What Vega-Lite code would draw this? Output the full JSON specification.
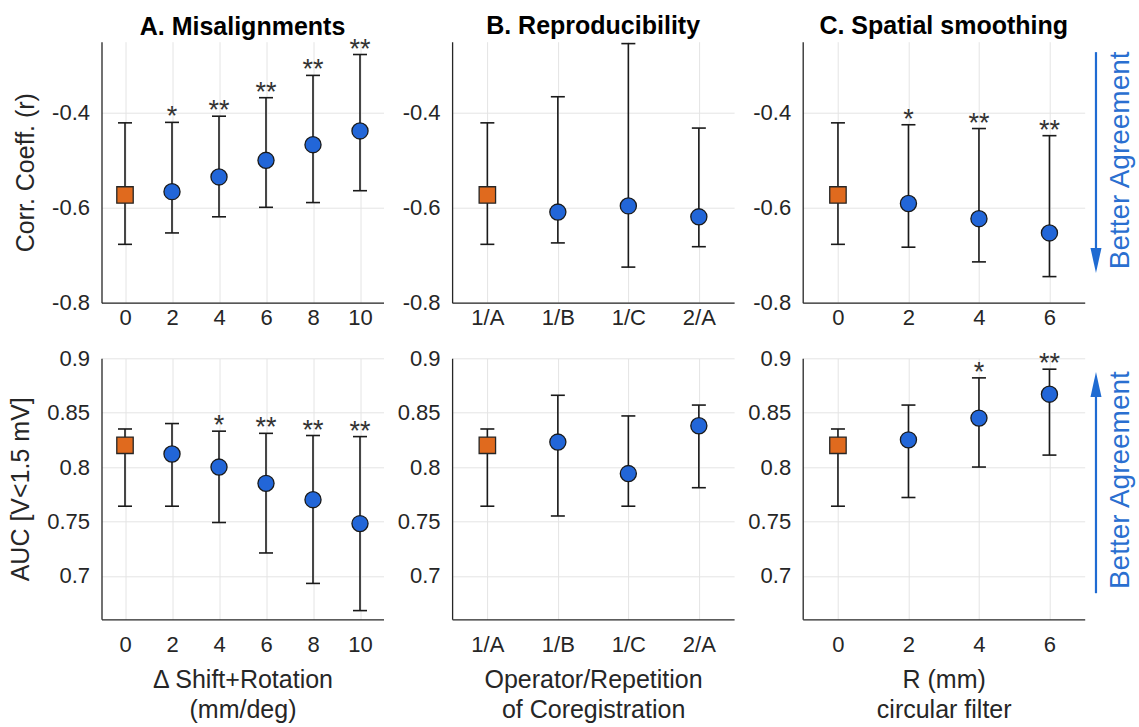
{
  "$schema": "https://vega.github.io/schema/vega-lite/v6.json",
  "background": "white",
  "autosize": {"type": "none"},
  "padding": {"left": 101.5, "top": 41.7, "right": 1037.5, "bottom": 685.3},
  "datasets": {
    "A": [
      {"x": 0, "r": -0.573, "r_lo": -0.677, "r_hi": -0.421, "r_sig": "", "auc": 0.820, "auc_lo": 0.764, "auc_hi": 0.835, "auc_sig": "", "ref": true},
      {"x": 2, "r": -0.566, "r_lo": -0.653, "r_hi": -0.420, "r_sig": "*", "auc": 0.812, "auc_lo": 0.764, "auc_hi": 0.840, "auc_sig": "", "ref": false},
      {"x": 4, "r": -0.535, "r_lo": -0.619, "r_hi": -0.407, "r_sig": "**", "auc": 0.800, "auc_lo": 0.749, "auc_hi": 0.833, "auc_sig": "*", "ref": false},
      {"x": 6, "r": -0.500, "r_lo": -0.599, "r_hi": -0.368, "r_sig": "**", "auc": 0.785, "auc_lo": 0.721, "auc_hi": 0.831, "auc_sig": "**", "ref": false},
      {"x": 8, "r": -0.467, "r_lo": -0.589, "r_hi": -0.321, "r_sig": "**", "auc": 0.770, "auc_lo": 0.693, "auc_hi": 0.829, "auc_sig": "**", "ref": false},
      {"x": 10, "r": -0.438, "r_lo": -0.564, "r_hi": -0.277, "r_sig": "**", "auc": 0.748, "auc_lo": 0.668, "auc_hi": 0.828, "auc_sig": "**", "ref": false}
    ],
    "B": [
      {"x": "1/A", "r": -0.573, "r_lo": -0.677, "r_hi": -0.421, "r_sig": "", "auc": 0.820, "auc_lo": 0.764, "auc_hi": 0.835, "auc_sig": "", "ref": true},
      {"x": "1/B", "r": -0.609, "r_lo": -0.674, "r_hi": -0.366, "r_sig": "", "auc": 0.823, "auc_lo": 0.755, "auc_hi": 0.866, "auc_sig": "", "ref": false},
      {"x": "1/C", "r": -0.596, "r_lo": -0.725, "r_hi": -0.254, "r_sig": "", "auc": 0.794, "auc_lo": 0.764, "auc_hi": 0.847, "auc_sig": "", "ref": false},
      {"x": "2/A", "r": -0.619, "r_lo": -0.682, "r_hi": -0.432, "r_sig": "", "auc": 0.838, "auc_lo": 0.781, "auc_hi": 0.857, "auc_sig": "", "ref": false}
    ],
    "C": [
      {"x": 0, "r": -0.573, "r_lo": -0.677, "r_hi": -0.421, "r_sig": "", "auc": 0.820, "auc_lo": 0.764, "auc_hi": 0.835, "auc_sig": "", "ref": true},
      {"x": 2, "r": -0.591, "r_lo": -0.683, "r_hi": -0.425, "r_sig": "*", "auc": 0.825, "auc_lo": 0.772, "auc_hi": 0.857, "auc_sig": "", "ref": false},
      {"x": 4, "r": -0.623, "r_lo": -0.714, "r_hi": -0.433, "r_sig": "**", "auc": 0.845, "auc_lo": 0.800, "auc_hi": 0.882, "auc_sig": "*", "ref": false},
      {"x": 6, "r": -0.653, "r_lo": -0.745, "r_hi": -0.448, "r_sig": "**", "auc": 0.867, "auc_lo": 0.811, "auc_hi": 0.890, "auc_sig": "**", "ref": false}
    ]
  },
  "columns": 3,
  "spacing": {"row": 55.6, "column": 68.6},
  "bounds": "flush",
  "concat": [
    {
      "title": {"text": "A. Misalignments", "dy": 7},
      "width": 282, "height": 261,
      "data": {"name": "A"},
      "encoding": {"x": {"field": "x", "type": "quantitative", "scale": {"domain": [-1, 11], "nice": false, "zero": false}, "axis": {"values": [0, 2, 4, 6, 8, 10], "title": null}}},
      "layer": [
        {"mark": {"type": "rule", "color": "#1a1a1a", "strokeWidth": 1.6}, "encoding": {"y": {"field": "r_lo", "type": "quantitative", "scale": {"domain": [-0.8, -0.25], "nice": false, "zero": false}, "axis": {"values": [-0.8, -0.6, -0.4], "title": "Corr. Coeff. (r)", "labelExpr": "datum.value + ''"}}, "y2": {"field": "r_hi"}}},
        {"mark": {"type": "tick", "orient": "horizontal", "size": 14, "thickness": 1.6, "color": "#1a1a1a", "opacity": 1}, "encoding": {"y": {"field": "r_lo", "type": "quantitative"}}},
        {"mark": {"type": "tick", "orient": "horizontal", "size": 14, "thickness": 1.6, "color": "#1a1a1a", "opacity": 1}, "encoding": {"y": {"field": "r_hi", "type": "quantitative"}}},
        {"transform": [{"filter": "datum.ref"}], "mark": {"type": "square", "size": 270, "fill": "#e06a1e", "filled": true, "stroke": "#262626", "strokeWidth": 1.3, "opacity": 1}, "encoding": {"y": {"field": "r", "type": "quantitative"}}},
        {"transform": [{"filter": "!datum.ref"}], "mark": {"type": "circle", "size": 260, "fill": "#2266d8", "stroke": "#1a1a1a", "strokeWidth": 1.3, "opacity": 1}, "encoding": {"y": {"field": "r", "type": "quantitative"}}},
        {"mark": {"type": "text", "fontSize": 27, "color": "#333333", "baseline": "alphabetic", "dy": 3}, "encoding": {"y": {"field": "r_hi", "type": "quantitative"}, "text": {"field": "r_sig"}}}
      ]
    },
    {
      "title": {"text": "B. Reproducibility"},
      "width": 282, "height": 261,
      "data": {"name": "B"},
      "encoding": {"x": {"field": "x", "type": "ordinal", "scale": {"type": "point", "padding": 0.5, "domain": ["1/A", "1/B", "1/C", "2/A"]}, "axis": {"title": null, "labelAngle": 0}}},
      "layer": [
        {"mark": {"type": "rule", "color": "#1a1a1a", "strokeWidth": 1.6}, "encoding": {"y": {"field": "r_lo", "type": "quantitative", "scale": {"domain": [-0.8, -0.25], "nice": false, "zero": false}, "axis": {"values": [-0.8, -0.6, -0.4], "title": null, "labelExpr": "datum.value + ''"}}, "y2": {"field": "r_hi"}}},
        {"mark": {"type": "tick", "orient": "horizontal", "size": 14, "thickness": 1.6, "color": "#1a1a1a", "opacity": 1}, "encoding": {"y": {"field": "r_lo", "type": "quantitative"}}},
        {"mark": {"type": "tick", "orient": "horizontal", "size": 14, "thickness": 1.6, "color": "#1a1a1a", "opacity": 1}, "encoding": {"y": {"field": "r_hi", "type": "quantitative"}}},
        {"transform": [{"filter": "datum.ref"}], "mark": {"type": "square", "size": 270, "fill": "#e06a1e", "filled": true, "stroke": "#262626", "strokeWidth": 1.3, "opacity": 1}, "encoding": {"y": {"field": "r", "type": "quantitative"}}},
        {"transform": [{"filter": "!datum.ref"}], "mark": {"type": "circle", "size": 260, "fill": "#2266d8", "stroke": "#1a1a1a", "strokeWidth": 1.3, "opacity": 1}, "encoding": {"y": {"field": "r", "type": "quantitative"}}}
      ]
    },
    {
      "title": {"text": "C. Spatial smoothing"},
      "width": 282, "height": 261,
      "data": {"name": "C"},
      "encoding": {"x": {"field": "x", "type": "quantitative", "scale": {"domain": [-1, 7], "nice": false, "zero": false}, "axis": {"values": [0, 2, 4, 6], "title": null}}},
      "layer": [
        {"mark": {"type": "rule", "color": "#1a1a1a", "strokeWidth": 1.6}, "encoding": {"y": {"field": "r_lo", "type": "quantitative", "scale": {"domain": [-0.8, -0.25], "nice": false, "zero": false}, "axis": {"values": [-0.8, -0.6, -0.4], "title": null, "labelExpr": "datum.value + ''"}}, "y2": {"field": "r_hi"}}},
        {"mark": {"type": "tick", "orient": "horizontal", "size": 14, "thickness": 1.6, "color": "#1a1a1a", "opacity": 1}, "encoding": {"y": {"field": "r_lo", "type": "quantitative"}}},
        {"mark": {"type": "tick", "orient": "horizontal", "size": 14, "thickness": 1.6, "color": "#1a1a1a", "opacity": 1}, "encoding": {"y": {"field": "r_hi", "type": "quantitative"}}},
        {"transform": [{"filter": "datum.ref"}], "mark": {"type": "square", "size": 270, "fill": "#e06a1e", "filled": true, "stroke": "#262626", "strokeWidth": 1.3, "opacity": 1}, "encoding": {"y": {"field": "r", "type": "quantitative"}}},
        {"transform": [{"filter": "!datum.ref"}], "mark": {"type": "circle", "size": 260, "fill": "#2266d8", "stroke": "#1a1a1a", "strokeWidth": 1.3, "opacity": 1}, "encoding": {"y": {"field": "r", "type": "quantitative"}}},
        {"mark": {"type": "text", "fontSize": 27, "color": "#333333", "baseline": "alphabetic", "dy": 3}, "encoding": {"y": {"field": "r_hi", "type": "quantitative"}, "text": {"field": "r_sig"}}},
        {"transform": [{"filter": "datum.ref"}], "mark": {"type": "rule", "color": "#1f6bd2", "strokeWidth": 2.2}, "encoding": {"x": {"datum": 7.32, "type": "quantitative"}, "y": {"datum": -0.272, "type": "quantitative"}, "y2": {"datum": -0.71}}},
        {"transform": [{"filter": "datum.ref"}], "mark": {"type": "point", "shape": "M -0.44 -1 L 0.44 -1 L 0 1 Z", "size": 625, "filled": true, "fill": "#1f6bd2", "strokeWidth": 0, "opacity": 1}, "encoding": {"x": {"datum": 7.32, "type": "quantitative"}, "y": {"datum": -0.711, "type": "quantitative"}}},
        {"transform": [{"filter": "datum.ref"}], "mark": {"type": "text", "angle": 270, "fontSize": 28, "color": "#2a6fd0", "align": "center", "baseline": "middle", "text": "Better Agreement"}, "encoding": {"x": {"datum": 8.03, "type": "quantitative"}, "y": {"datum": -0.5, "type": "quantitative"}}}
      ]
    },
    {
      "width": 282, "height": 261,
      "data": {"name": "A"},
      "encoding": {"x": {"field": "x", "type": "quantitative", "scale": {"domain": [-1, 11], "nice": false, "zero": false}, "axis": {"values": [0, 2, 4, 6, 8, 10], "title": ["Δ Shift+Rotation", "(mm/deg)"], "labelPadding": 15, "titlePadding": 12}}},
      "layer": [
        {"mark": {"type": "rule", "color": "#1a1a1a", "strokeWidth": 1.6}, "encoding": {"y": {"field": "auc_lo", "type": "quantitative", "scale": {"domain": [0.66, 0.9], "nice": false, "zero": false}, "axis": {"values": [0.7, 0.75, 0.8, 0.85, 0.9], "title": "AUC [V<1.5 mV]", "labelExpr": "datum.value + ''"}}, "y2": {"field": "auc_hi"}}},
        {"mark": {"type": "tick", "orient": "horizontal", "size": 14, "thickness": 1.6, "color": "#1a1a1a", "opacity": 1}, "encoding": {"y": {"field": "auc_lo", "type": "quantitative"}}},
        {"mark": {"type": "tick", "orient": "horizontal", "size": 14, "thickness": 1.6, "color": "#1a1a1a", "opacity": 1}, "encoding": {"y": {"field": "auc_hi", "type": "quantitative"}}},
        {"transform": [{"filter": "datum.ref"}], "mark": {"type": "square", "size": 270, "fill": "#e06a1e", "filled": true, "stroke": "#262626", "strokeWidth": 1.3, "opacity": 1}, "encoding": {"y": {"field": "auc", "type": "quantitative"}}},
        {"transform": [{"filter": "!datum.ref"}], "mark": {"type": "circle", "size": 260, "fill": "#2266d8", "stroke": "#1a1a1a", "strokeWidth": 1.3, "opacity": 1}, "encoding": {"y": {"field": "auc", "type": "quantitative"}}},
        {"mark": {"type": "text", "fontSize": 27, "color": "#333333", "baseline": "alphabetic", "dy": 3}, "encoding": {"y": {"field": "auc_hi", "type": "quantitative"}, "text": {"field": "auc_sig"}}}
      ]
    },
    {
      "width": 282, "height": 261,
      "data": {"name": "B"},
      "encoding": {"x": {"field": "x", "type": "ordinal", "scale": {"type": "point", "padding": 0.5, "domain": ["1/A", "1/B", "1/C", "2/A"]}, "axis": {"title": ["Operator/Repetition", "of Coregistration"], "labelAngle": 0, "labelPadding": 15, "titlePadding": 12}}},
      "layer": [
        {"mark": {"type": "rule", "color": "#1a1a1a", "strokeWidth": 1.6}, "encoding": {"y": {"field": "auc_lo", "type": "quantitative", "scale": {"domain": [0.66, 0.9], "nice": false, "zero": false}, "axis": {"values": [0.7, 0.75, 0.8, 0.85, 0.9], "title": null, "labelExpr": "datum.value + ''"}}, "y2": {"field": "auc_hi"}}},
        {"mark": {"type": "tick", "orient": "horizontal", "size": 14, "thickness": 1.6, "color": "#1a1a1a", "opacity": 1}, "encoding": {"y": {"field": "auc_lo", "type": "quantitative"}}},
        {"mark": {"type": "tick", "orient": "horizontal", "size": 14, "thickness": 1.6, "color": "#1a1a1a", "opacity": 1}, "encoding": {"y": {"field": "auc_hi", "type": "quantitative"}}},
        {"transform": [{"filter": "datum.ref"}], "mark": {"type": "square", "size": 270, "fill": "#e06a1e", "filled": true, "stroke": "#262626", "strokeWidth": 1.3, "opacity": 1}, "encoding": {"y": {"field": "auc", "type": "quantitative"}}},
        {"transform": [{"filter": "!datum.ref"}], "mark": {"type": "circle", "size": 260, "fill": "#2266d8", "stroke": "#1a1a1a", "strokeWidth": 1.3, "opacity": 1}, "encoding": {"y": {"field": "auc", "type": "quantitative"}}}
      ]
    },
    {
      "width": 282, "height": 261,
      "data": {"name": "C"},
      "encoding": {"x": {"field": "x", "type": "quantitative", "scale": {"domain": [-1, 7], "nice": false, "zero": false}, "axis": {"values": [0, 2, 4, 6], "title": ["R (mm)", "circular filter"], "labelPadding": 15, "titlePadding": 12}}},
      "layer": [
        {"mark": {"type": "rule", "color": "#1a1a1a", "strokeWidth": 1.6}, "encoding": {"y": {"field": "auc_lo", "type": "quantitative", "scale": {"domain": [0.66, 0.9], "nice": false, "zero": false}, "axis": {"values": [0.7, 0.75, 0.8, 0.85, 0.9], "title": null, "labelExpr": "datum.value + ''"}}, "y2": {"field": "auc_hi"}}},
        {"mark": {"type": "tick", "orient": "horizontal", "size": 14, "thickness": 1.6, "color": "#1a1a1a", "opacity": 1}, "encoding": {"y": {"field": "auc_lo", "type": "quantitative"}}},
        {"mark": {"type": "tick", "orient": "horizontal", "size": 14, "thickness": 1.6, "color": "#1a1a1a", "opacity": 1}, "encoding": {"y": {"field": "auc_hi", "type": "quantitative"}}},
        {"transform": [{"filter": "datum.ref"}], "mark": {"type": "square", "size": 270, "fill": "#e06a1e", "filled": true, "stroke": "#262626", "strokeWidth": 1.3, "opacity": 1}, "encoding": {"y": {"field": "auc", "type": "quantitative"}}},
        {"transform": [{"filter": "!datum.ref"}], "mark": {"type": "circle", "size": 260, "fill": "#2266d8", "stroke": "#1a1a1a", "strokeWidth": 1.3, "opacity": 1}, "encoding": {"y": {"field": "auc", "type": "quantitative"}}},
        {"mark": {"type": "text", "fontSize": 27, "color": "#333333", "baseline": "alphabetic", "dy": 3}, "encoding": {"y": {"field": "auc_hi", "type": "quantitative"}, "text": {"field": "auc_sig"}}},
        {"transform": [{"filter": "datum.ref"}], "mark": {"type": "rule", "color": "#1f6bd2", "strokeWidth": 2.2}, "encoding": {"x": {"datum": 7.32, "type": "quantitative"}, "y": {"datum": 0.684, "type": "quantitative"}, "y2": {"datum": 0.874}}},
        {"transform": [{"filter": "datum.ref"}], "mark": {"type": "point", "shape": "M -0.44 1 L 0.44 1 L 0 -1 Z", "size": 625, "filled": true, "fill": "#1f6bd2", "strokeWidth": 0, "opacity": 1}, "encoding": {"x": {"datum": 7.32, "type": "quantitative"}, "y": {"datum": 0.876, "type": "quantitative"}}},
        {"transform": [{"filter": "datum.ref"}], "mark": {"type": "text", "angle": 270, "fontSize": 28, "color": "#2a6fd0", "align": "center", "baseline": "middle", "text": "Better Agreement"}, "encoding": {"x": {"datum": 8.03, "type": "quantitative"}, "y": {"datum": 0.788, "type": "quantitative"}}}
      ]
    }
  ],
  "config": {
    "font": "Liberation Sans",
    "view": {"stroke": null},
    "axis": {
      "grid": true,
      "gridColor": "#e4e4e4",
      "gridWidth": 1,
      "domainColor": "#262626",
      "domainWidth": 1.3,
      "ticks": false,
      "labelFont": "Liberation Sans",
      "labelFontSize": 22,
      "labelColor": "#262626",
      "titleFont": "Liberation Sans",
      "titleFontSize": 25,
      "titleFontWeight": "normal",
      "titleColor": "#262626",
      "titleLineHeight": 30
    },
    "axisX": {"labelPadding": 5, "titlePadding": 10},
    "axisY": {"labelPadding": 12, "titlePadding": 13.5},
    "title": {"font": "Liberation Sans", "fontSize": 25, "fontWeight": "bold", "color": "#000000", "offset": 3, "frame": "group"}
  }
}
